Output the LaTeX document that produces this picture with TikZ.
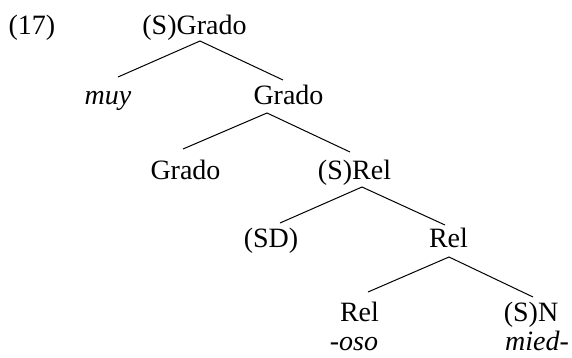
\documentclass[tikz,border=0pt]{standalone}
\usepackage{fontspec}
\setmainfont{Liberation Serif}
\usetikzlibrary{calc}
\tikzset{
  lab/.style={anchor=base, inner sep=0pt, font=\fontsize{28}{34}\selectfont},
  ilab/.style={lab, font=\fontsize{28}{34}\selectfont\itshape},
  br/.style={line width=1pt, black}
}
\begin{document}
\begin{tikzpicture}[x=1pt, y=-1pt]
\useasboundingbox (0,0) rectangle (572,358);
\node[lab] (ex) at (32,35) {(17)};
\node[lab] (sg) at (194.5,35) {(S)Grado};
\node[ilab] (muy) at (108,105) {muy};
\node[lab] (g2) at (288.5,105) {Grado};
\node[lab] (g3) at (185.5,179) {Grado};
\node[lab] (srel) at (354.5,179) {(S)Rel};
\node[lab] (sd) at (271,247) {(SD)};
\node[lab] (rel4) at (448.5,247) {Rel};
\node[lab] (rel5) at (359.5,321) {Rel};
\node[lab] (sn) at (531,321) {(S)N};
\node[ilab] (oso) at (354,350) {-oso};
\node[ilab] (mied) at (537,350) {mied-};
\draw[br] ($(muy.base)+(10,-28)$) -- ($(sg.base)+(5.5,6)$) -- ($(g2.base)+(-5.5,-25)$);
\draw[br] ($(g3.base)+(-2.5,-30)$) -- ($(g2.base)+(-21.5,8)$) -- ($(srel.base)+(-4.5,-27)$);
\draw[br] ($(sd.base)+(9,-24)$) -- ($(srel.base)+(7.5,8)$) -- ($(rel4.base)+(-3.5,-22)$);
\draw[br] ($(rel5.base)+(8.5,-29)$) -- ($(rel4.base)+(0.5,10)$) -- ($(sn.base)+(2,-24)$);
\end{tikzpicture}
\end{document}
